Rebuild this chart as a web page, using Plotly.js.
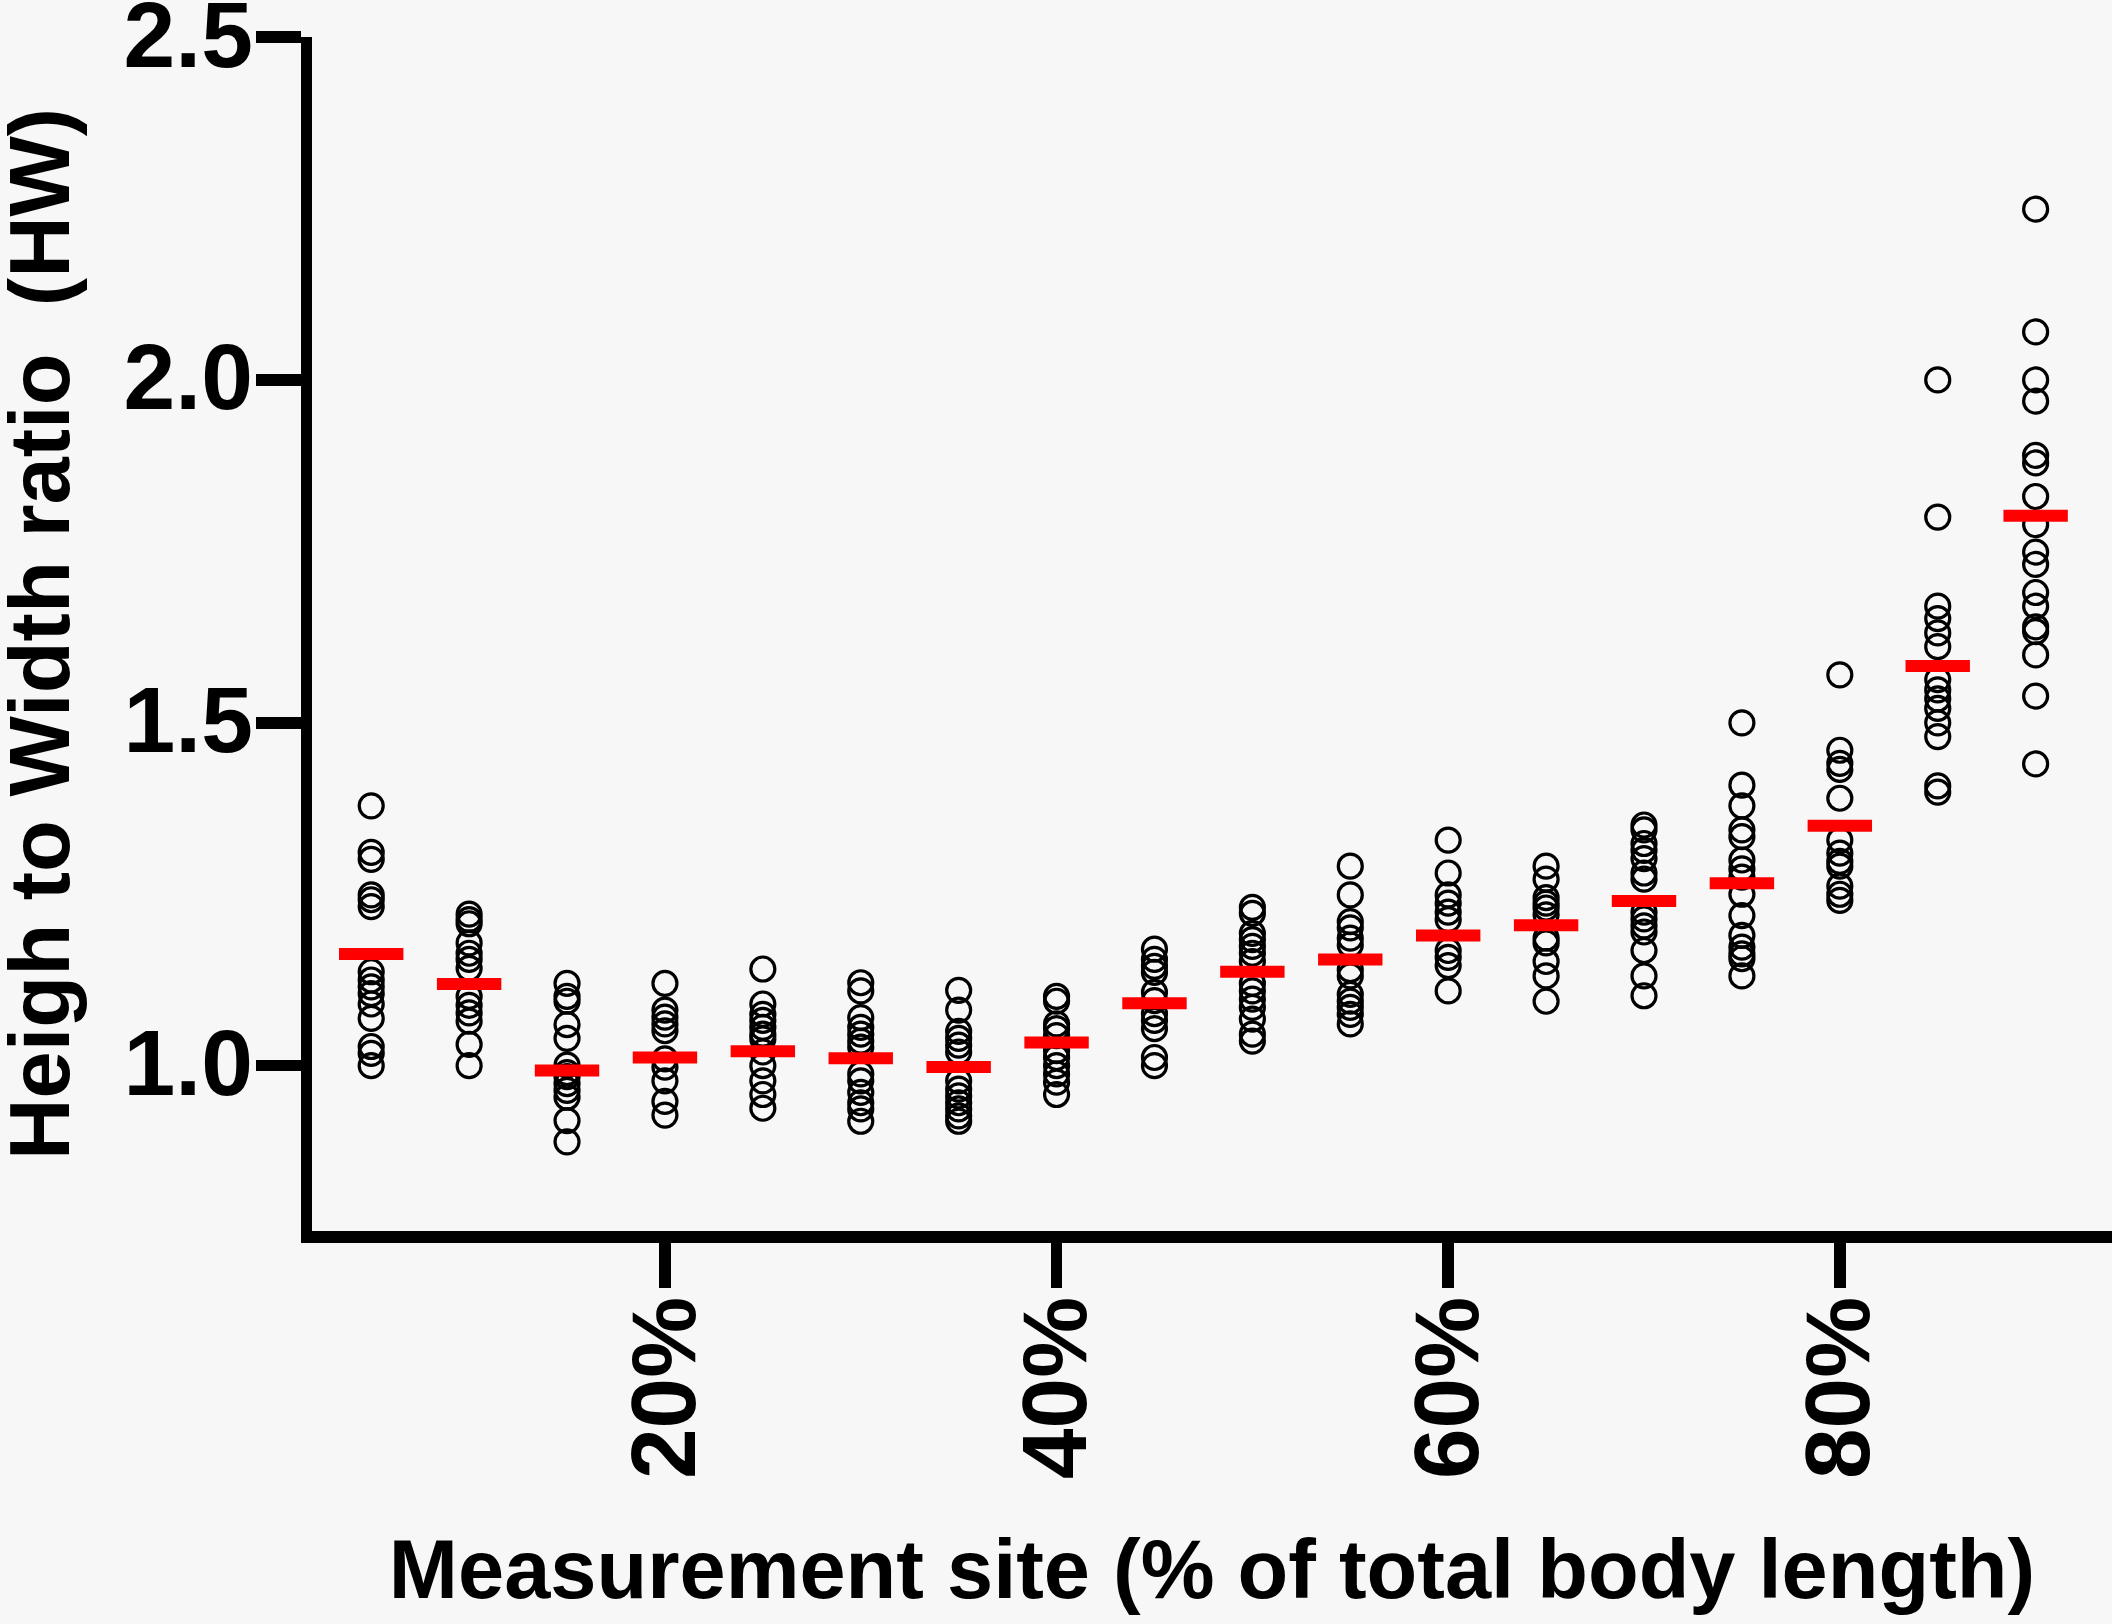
<!DOCTYPE html>
<html>
<head>
<meta charset="utf-8">
<script src="https://cdn.plot.ly/plotly-3.0.1.min.js"></script>
<style>
    body { margin: 0; background: #f7f7f7; }
    #chart { width: 2112px; height: 1624px; }
</style>
</head>
<body>
<div id="chart"></div>
<script>
// measurement sites, % of total body length
let sites = [5, 10, 15, 20, 25, 30, 35, 40, 45, 50, 55, 60, 65, 70, 75, 80, 85, 90];

// HW ratio of each individual, per site
let site05 = [1.379, 1.311, 1.301, 1.249, 1.242, 1.232, 1.137, 1.125, 1.115, 1.105, 1.090, 1.069, 1.028, 1.018, 1.000];
let site10 = [1.221, 1.213, 1.207, 1.179, 1.164, 1.155, 1.142, 1.101, 1.088, 1.077, 1.065, 1.031, 1.000];
let site15 = [1.120, 1.101, 1.094, 1.060, 1.040, 1.001, 0.990, 0.984, 0.974, 0.964, 0.954, 0.920, 0.889];
let site20 = [1.120, 1.081, 1.071, 1.061, 1.051, 1.010, 0.998, 0.978, 0.948, 0.928];
let site25 = [1.141, 1.090, 1.075, 1.066, 1.056, 1.046, 1.039, 1.020, 1.000, 0.978, 0.958, 0.938];
let site30 = [1.121, 1.109, 1.070, 1.056, 1.046, 1.036, 1.027, 0.988, 0.978, 0.961, 0.946, 0.937, 0.919];
let site35 = [1.110, 1.081, 1.050, 1.040, 1.030, 1.020, 0.978, 0.966, 0.956, 0.946, 0.937, 0.927, 0.919];
let site40 = [1.101, 1.094, 1.061, 1.054, 1.044, 1.022, 1.012, 1.000, 0.988, 0.976, 0.958];
let site45 = [1.170, 1.155, 1.145, 1.136, 1.107, 1.095, 1.076, 1.066, 1.054, 1.012, 1.000];
let site50 = [1.231, 1.222, 1.193, 1.184, 1.174, 1.164, 1.152, 1.120, 1.109, 1.097, 1.085, 1.068, 1.046, 1.036];
let site55 = [1.291, 1.249, 1.210, 1.201, 1.186, 1.176, 1.140, 1.131, 1.104, 1.094, 1.085, 1.075, 1.061];
let site60 = [1.329, 1.281, 1.249, 1.237, 1.224, 1.213, 1.168, 1.158, 1.146, 1.109];
let site65 = [1.291, 1.272, 1.245, 1.237, 1.230, 1.220, 1.186, 1.179, 1.152, 1.131, 1.094];
let site70 = [1.351, 1.344, 1.324, 1.314, 1.302, 1.281, 1.272, 1.224, 1.214, 1.204, 1.195, 1.168, 1.131, 1.102];
let site75 = [1.500, 1.409, 1.379, 1.344, 1.334, 1.300, 1.287, 1.275, 1.250, 1.219, 1.190, 1.173, 1.163, 1.156, 1.131];
let site80 = [1.570, 1.460, 1.441, 1.432, 1.390, 1.329, 1.310, 1.298, 1.291, 1.262, 1.250, 1.241];
let site85 = [2.000, 1.800, 1.670, 1.652, 1.631, 1.611, 1.563, 1.548, 1.535, 1.521, 1.500, 1.480, 1.408, 1.399];
let site90 = [2.249, 2.070, 2.000, 1.969, 1.890, 1.879, 1.830, 1.789, 1.749, 1.731, 1.690, 1.670, 1.640, 1.633, 1.599, 1.539, 1.440];

// group means (red bars)
let means = [1.163, 1.119, 0.993, 1.012, 1.021, 1.011, 0.998, 1.034, 1.091, 1.137, 1.155, 1.190, 1.205, 1.240, 1.266, 1.350, 1.583, 1.802];

let xTickVals = [20, 40, 60, 80];
let xTickText = ['20%', '40%', '60%', '80%'];
let yTickVals = [1.0, 1.5, 2.0, 2.5];
let yTickText = ['1.0', '1.5', '2.0', '2.5'];

let groups = [site05, site10, site15, site20, site25, site30, site35, site40, site45,
    site50, site55, site60, site65, site70, site75, site80, site85, site90];

let fontFamily = 'Liberation Sans, Arial, Helvetica, sans-serif';

function buildPoints() {
    let xs = [];
    let ys = [];

    for (let i = 0; i < groups.length; i++) {
        for (let j = 0; j < groups[i].length; j++) {
            xs.push(sites[i]);
            ys.push(groups[i][j]);
        }
    }

    return { x: xs, y: ys };
}

let pts = buildPoints();

let data = [
    {
        x: pts.x,
        y: pts.y,
        type: 'scatter',
        mode: 'markers',
        marker: {
            symbol: 'circle',
            size: 24,
            color: 'rgba(0,0,0,0)',
            line: { color: '#000', width: 3.2 }
        },
        hoverinfo: 'skip'
    },
    {
        x: sites,
        y: means,
        type: 'scatter',
        mode: 'markers',
        marker: {
            symbol: 'line-ew',
            size: 46,
            color: '#ff0000',
            line: { color: '#ff0000', width: 12 }
        },
        hoverinfo: 'skip'
    }
];

let layout = {
    width: 2112,
    height: 1624,
    paper_bgcolor: '#f7f7f7',
    plot_bgcolor: '#f7f7f7',
    showlegend: false,
    font: { family: fontFamily, color: '#000', weight: 'bold' },
    margin: { l: 312, r: 0, t: 37, b: 393, pad: 0 },
    xaxis: {
        range: [1.976, 93.9],
        tickvals: xTickVals,
        ticktext: xTickText,
        tickangle: -90,
        ticks: 'outside',
        ticklen: 45,
        tickwidth: 11.5,
        tickcolor: '#000',
        ticklabelstandoff: -27,
        ticklabeloverflow: 'allow',
        showline: true,
        linewidth: 11.5,
        linecolor: '#000',
        showgrid: false,
        zeroline: false,
        tickfont: { size: 91, family: fontFamily, weight: 'bold' },
        title: {
            text: 'Measurement site (% of total body length)',
            font: { size: 83, family: fontFamily, weight: 'bold' },
            standoff: 67
        }
    },
    yaxis: {
        range: [0.759, 2.5],
        tickvals: yTickVals,
        ticktext: yTickText,
        ticks: 'outside',
        ticklen: 45,
        tickwidth: 11.5,
        tickcolor: '#000',
        ticklabelstandoff: -16,
        ticklabelshift: -3,
        ticklabeloverflow: 'allow',
        showline: true,
        linewidth: 11.5,
        linecolor: '#000',
        showgrid: false,
        zeroline: false,
        tickfont: { size: 93, family: fontFamily, weight: 'bold' }
    },
    // y title as an annotation so it can sit right at the left edge like the original
    annotations: [
        {
            text: 'Heigh to Width ratio \u00a0(HW)',
            xref: 'paper',
            yref: 'paper',
            x: 0,
            y: 0.5,
            xshift: -273,
            xanchor: 'center',
            yanchor: 'middle',
            textangle: -90,
            showarrow: false,
            font: { size: 85, family: fontFamily, weight: 'bold', color: '#000' }
        }
    ]
};

Plotly.newPlot('chart', data, layout, { displayModeBar: false, staticPlot: true });
</script>
</body>
</html>
